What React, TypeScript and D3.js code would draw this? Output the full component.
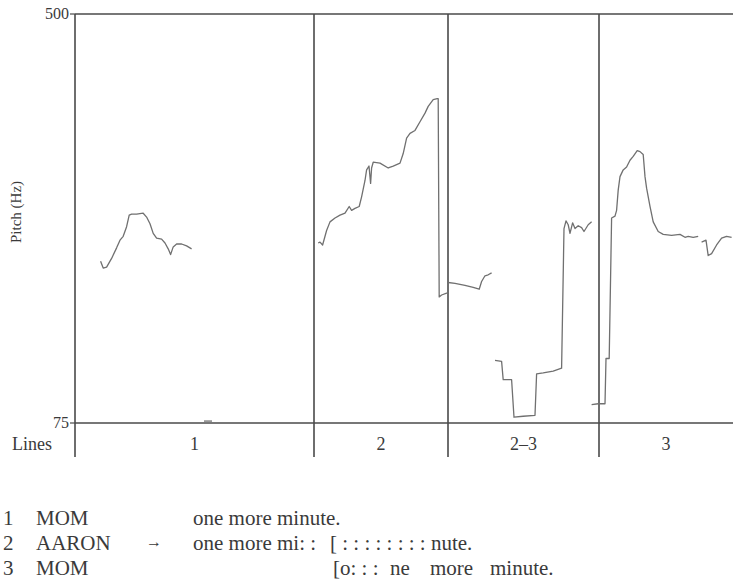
import React from "react";
import * as d3 from "d3";

// pitch track, [time (s), pitch (Hz)]
const line1Pitch: [number, number][] = [
  [0.128, 243], [0.141, 236], [0.158, 237], [0.183, 246], [0.208, 257], [0.225, 265],
  [0.241, 269], [0.258, 279], [0.271, 291], [0.283, 292], [0.308, 292], [0.341, 293],
  [0.358, 289], [0.375, 282], [0.391, 272], [0.408, 267], [0.433, 266], [0.45, 262],
  [0.466, 256], [0.478, 250], [0.491, 258], [0.508, 261], [0.533, 261], [0.558, 259],
  [0.583, 256],
];
const line1Blip: [number, number][] = [[0.645, 77], [0.685, 77]];
const line2Pitch: [number, number][] = [
  [1.216, 262], [1.225, 263], [1.238, 260], [1.258, 275], [1.275, 284], [1.3, 288],
  [1.325, 291], [1.35, 293], [1.371, 300], [1.383, 296], [1.4, 298], [1.421, 300],
  [1.433, 310], [1.45, 327], [1.458, 338], [1.47, 342], [1.478, 324], [1.483, 340],
  [1.491, 346], [1.525, 345], [1.566, 340], [1.591, 342], [1.625, 345], [1.641, 355],
  [1.658, 371], [1.675, 376], [1.7, 379], [1.725, 388], [1.75, 397], [1.766, 404],
  [1.791, 411], [1.811, 412], [1.816, 412], [1.821, 206], [1.833, 208], [1.858, 210],
  [1.866, 210],
];
const overlapHigh: [number, number][] = [
  [1.866, 221], [1.9, 220], [1.95, 218], [1.991, 216], [2.021, 214], [2.033, 222],
  [2.05, 228], [2.066, 229], [2.083, 231],
];
const overlapLow: [number, number][] = [
  [2.1, 140], [2.133, 139], [2.141, 120], [2.183, 120], [2.195, 81], [2.241, 82],
  [2.3, 83], [2.308, 126], [2.341, 127], [2.391, 129], [2.433, 132], [2.445, 277],
  [2.455, 285], [2.466, 281], [2.475, 272], [2.488, 283], [2.5, 277], [2.516, 280],
  [2.533, 278], [2.545, 274], [2.566, 281], [2.583, 284],
];
const line3Pitch: [number, number][] = [
  [2.583, 94], [2.616, 95], [2.65, 95], [2.655, 142], [2.671, 142], [2.683, 288],
  [2.7, 290], [2.708, 296], [2.716, 317], [2.725, 331], [2.741, 338], [2.758, 341],
  [2.775, 348], [2.791, 352], [2.811, 358], [2.825, 357], [2.841, 354], [2.85, 331],
  [2.858, 319], [2.875, 300], [2.891, 284], [2.916, 274], [2.941, 271], [2.983, 270],
  [3.025, 271], [3.05, 268], [3.066, 269], [3.091, 268], [3.116, 269],
];
const line3Tail: [number, number][] = [
  [3.133, 263], [3.155, 265], [3.166, 249], [3.183, 251], [3.208, 260], [3.233, 267],
  [3.258, 269], [3.283, 268],
];

const contours = [line1Pitch, line1Blip, line2Pitch, overlapHigh, overlapLow, line3Pitch, line3Tail];

// transcript line boundaries (s) and labels
const lineBounds = [0, 1.195, 1.865, 2.62, 3.29];
const lineLabels = ["1", "2", "2\u20133", "3"];
const yTicks = [75, 500];

// transcript below the chart
const rowNumbers = ["1", "2", "3"];
const speakers = ["MOM", "AARON", "MOM"];
const arrows = ["", "\u2192", ""];
const utterances = [
  ["one more minute."],
  ["one more mi: :", "[ : : : : : : : : nute."],
  ["[o: : :", "ne", "more", "minute."],
];

const W = 733;
const H = 584;
const plotLeft = 75;
const plotTop = 14;
const plotBottom = 423;
const rowBottom = 457;
const font = "'Liberation Serif', 'Times New Roman', serif";
const ink = "#3a3a3a";

// column layout for the transcript pieces
const pieceX = [[193], [193, 330], [333, 390, 430, 490]];

export default function App() {
  const x = d3.scaleLinear().domain([0, 3.29]).range([plotLeft, W]);
  const y = d3.scaleLinear().domain([75, 500]).range([plotBottom, plotTop]);
  const line = d3.line<[number, number]>().x(d => x(d[0])).y(d => y(d[1]));

  return (
    <svg width={W} height={H} style={{ position: "absolute", left: 0, top: 0, background: "#fff" }}
      fontFamily={font}>
      {/* frame */}
      <line x1={plotLeft} x2={W} y1={y(500)} y2={y(500)} stroke="#4a4a4a" strokeWidth={1.6} />
      <line x1={plotLeft} x2={W} y1={y(75)} y2={y(75)} stroke="#4a4a4a" strokeWidth={1.6} />
      {lineBounds.slice(0, -1).map((b, i) => (
        <line key={i} x1={x(b)} x2={x(b)} y1={plotTop} y2={rowBottom} stroke="#4a4a4a" strokeWidth={1.6} />
      ))}
      {yTicks.map(t => (
        <g key={t}>
          <line x1={plotLeft - 5} x2={plotLeft} y1={y(t)} y2={y(t)} stroke="#4a4a4a" strokeWidth={1.2} />
          <text x={plotLeft - 6} y={y(t) + 5} textAnchor="end" fontSize={16} fill={ink}>{t}</text>
        </g>
      ))}
      <text transform={`translate(21,212) rotate(-90)`} textAnchor="middle" fontSize={15} fill={ink}>
        Pitch (Hz)
      </text>

      {/* pitch contours */}
      {contours.map((c, i) => (
        <path key={i} d={line(c) || ""} fill="none" stroke="#707070" strokeWidth={1.3} strokeLinejoin="round" />
      ))}

      {/* lines row */}
      <text x={12} y={450} fontSize={18} fill={ink}>Lines</text>
      {lineLabels.map((l, i) => (
        <text key={l} x={(x(lineBounds[i]) + x(lineBounds[i + 1])) / 2} y={450} textAnchor="middle"
          fontSize={18} fill={ink}>{l}</text>
      ))}

      {/* transcript */}
      {rowNumbers.map((n, i) => {
        const base = 525 + i * 25;
        return (
          <g key={n} fontSize={21} fill={ink}>
            <text x={3} y={base}>{n}</text>
            <text x={36} y={base}>{speakers[i]}</text>
            {arrows[i] && <text x={146} y={base - 3} fontSize={16}>{arrows[i]}</text>}
            {utterances[i].map((u, j) => (
              <text key={j} x={pieceX[i][j]} y={base}>{u}</text>
            ))}
          </g>
        );
      })}
    </svg>
  );
}
